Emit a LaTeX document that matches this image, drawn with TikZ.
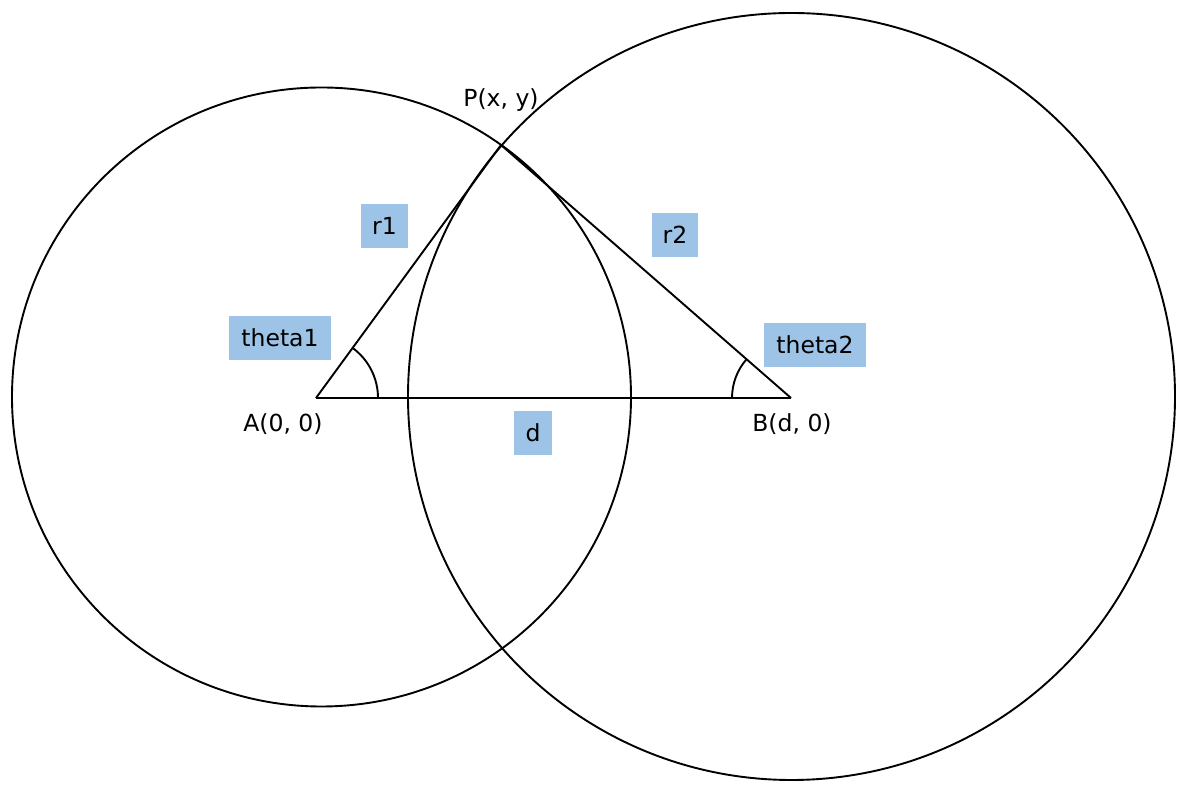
\documentclass[tikz,border=0pt]{standalone}
\usepackage{fontspec}
\setmainfont{DejaVu Sans}
\usetikzlibrary{angles}
\definecolor{boxblue}{HTML}{9DC3E6}
\begin{document}
\begin{tikzpicture}
[x=1pt,y=1pt,
  labelbox/.style={fill=boxblue,inner sep=0pt,minimum height=44pt,font=\fontsize{23.5}{28}\selectfont},%
  plaintext/.style={inner sep=0pt,font=\fontsize{23.5}{28}\selectfont},%
  linedecorate/.style={-,line width=1.9pt}]
\useasboundingbox (0,0) rectangle (1196,794);
%% circles
\draw[linedecorate] (321.5,397) circle (309.5);
\draw[linedecorate] (791.5,397.5) circle (383.5);
%% points of the triangle
\foreach \pointname/\x/\y in {A/316/396, B/791/396, P/501/649} {
  \coordinate (\pointname) at (\x,\y);
}
%% sides
\path
\foreach \startnode/\endnode in {A/B, A/P, B/P} {
  (\startnode) edge[linedecorate] (\endnode)
};
%% angles
\path pic[draw,line width=1.9pt,angle radius=62pt] {angle=B--A--P};
\path pic[draw,line width=1.9pt,angle radius=59pt] {angle=P--B--A};
%% labels
\foreach \nodename/\x/\y/\w/\txt in {r1/384.5/568/47/r1, r2/675/559/46/r2,
  d/533/361/38/d, t1/280/456/102/theta1, t2/815/449/102/theta2} {
  \node (\nodename) at (\x,\y) [labelbox,minimum width=\w pt] {\txt};
}
\foreach \nodename/\x/\y/\txt in {pP/501/694/{P(x, y)}, pA/283/370/{A(0, 0)},
  pB/792/370/{B(d, 0)}} {
  \node (\nodename) at (\x,\y) [plaintext] {\txt};
}
\end{tikzpicture}
\end{document}
